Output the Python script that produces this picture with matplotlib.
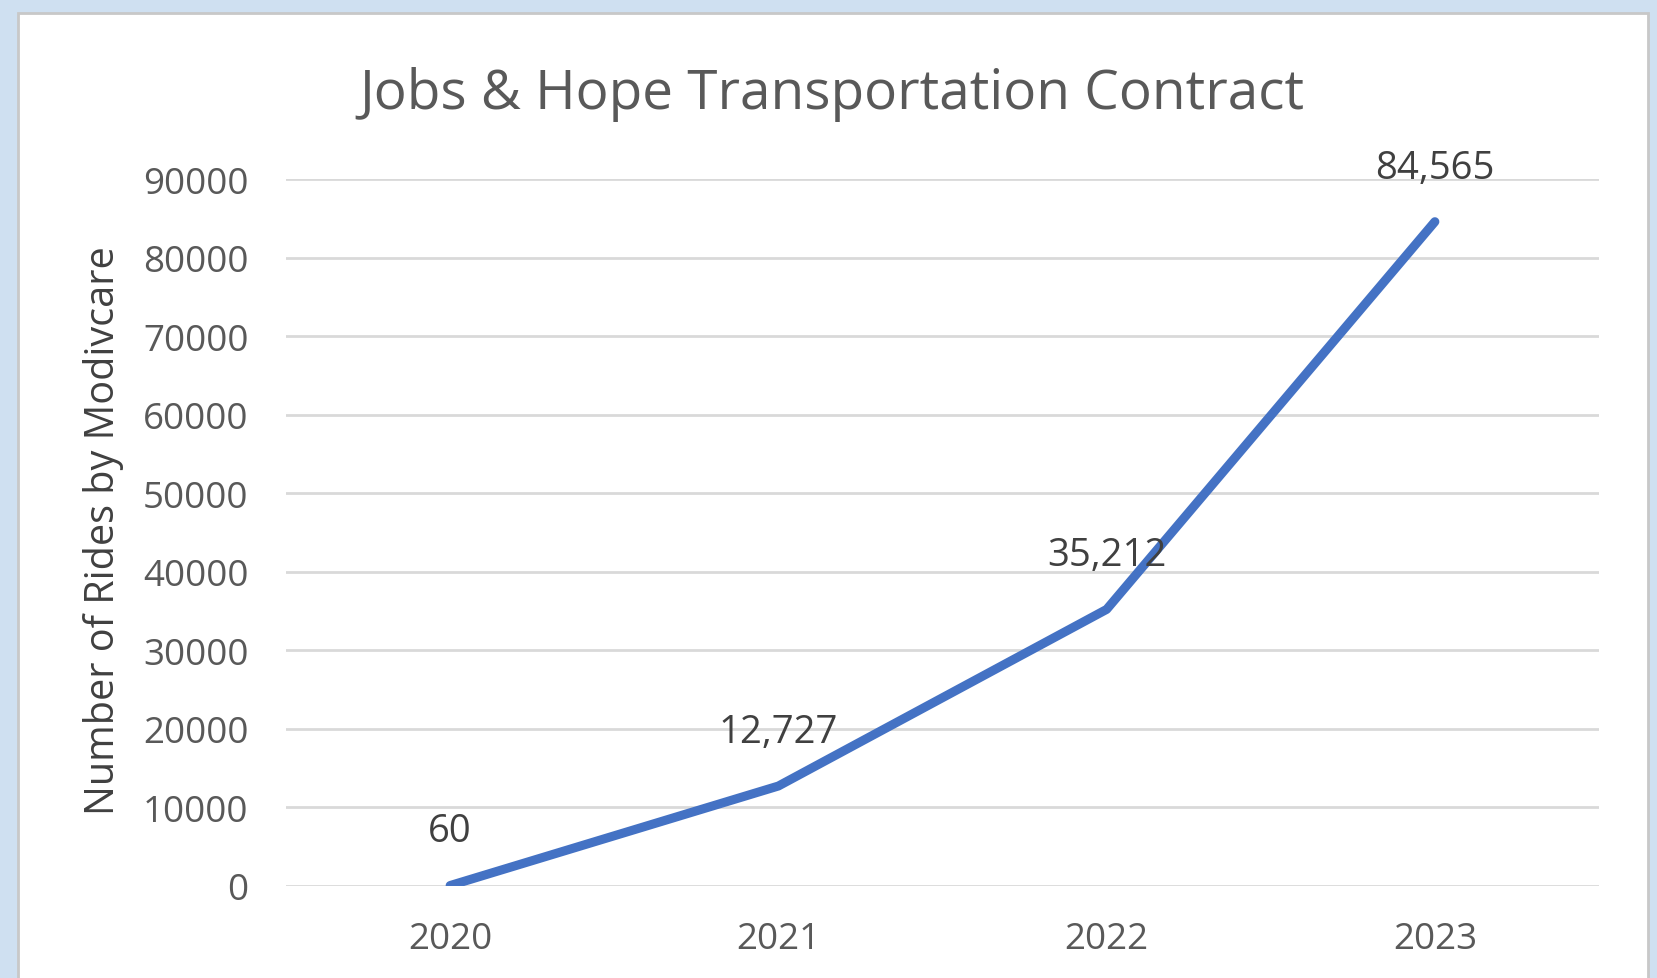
import matplotlib
matplotlib.use("Agg")
import matplotlib.pyplot as plt
from matplotlib.patches import Rectangle

years = ["2020", "2021", "2022", "2023"]
rides = [60, 12727, 35212, 84565]
labels = ["60", "12,727", "35,212", "84,565"]
yticks = [0, 10000, 20000, 30000, 40000, 50000, 60000, 70000, 80000, 90000]

plt.rcParams['font.family'] = ['Open Sans', 'DejaVu Sans']

fig = plt.figure(figsize=(16.57, 9.79), dpi=100)
fig.patch.set_facecolor("#cfe0f1")
# white chart panel with thin grey border
fig.patches.append(Rectangle((18/1657, -0.01), (1648-18)/1657, 1 - 14/979 + 0.01,
                             transform=fig.transFigure, facecolor="white",
                             edgecolor="#c8c8c8", linewidth=2, zorder=-10))

ax = fig.add_axes([286/1657, 1 - 887/979, (1599-286)/1657, (887-180)/979])
ax.set_facecolor("none")

x = list(range(len(years)))
ax.plot(x, rides, color="#4472c4", linewidth=6.5, solid_capstyle="round",
        solid_joinstyle="round", zorder=3)

for xi, yi, lab in zip(x, rides, labels):
    ax.annotate(lab, (xi, yi), xytext=(0, 39), textcoords="offset points",
                ha="center", va="center", fontsize=27.5, color="#404040", zorder=4)

ax.set_xlim(-0.5, 3.5)
ax.set_ylim(0, 90000)
ax.set_xticks(x)
ax.set_xticklabels(years)
ax.set_yticks(yticks)
ax.set_yticklabels([str(t) for t in yticks])
ax.tick_params(axis="both", length=0, labelsize=26.5, labelcolor="#595959")
ax.tick_params(axis="y", pad=27)
ax.tick_params(axis="x", pad=25)
ax.grid(axis="y", color="#d9d9d9", linewidth=2)
ax.set_axisbelow(True)
for s in ax.spines.values():
    s.set_visible(False)

fig.text(104/1657, 1 - 531/979, "Number of Rides by Modivcare", rotation=90,
         ha="center", va="center", fontsize=28.5, color="#404040")

fig.text(832/1657, 1 - 94/979, "Jobs & Hope Transportation Contract", ha="center",
         va="center", fontsize=39.5, color="#595959")

fig.savefig("out.png", dpi=100, facecolor=fig.get_facecolor())
